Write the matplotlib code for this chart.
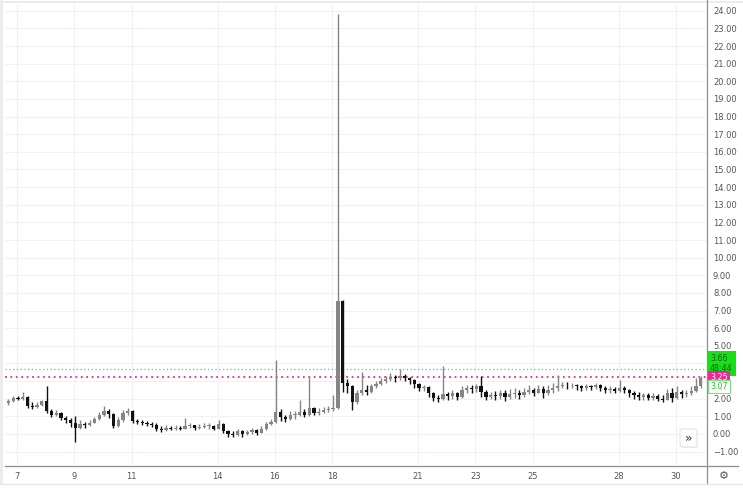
import matplotlib.pyplot as plt
from matplotlib.lines import Line2D
from matplotlib.patches import FancyBboxPatch, Rectangle
import numpy as np

# 4h candles, one row per day (open = previous close)
close = [
    1.85, 2.05, 2.0, 2.1, 1.6, 1.55,
    1.65, 1.85, 1.3, 1.1, 1.2, 0.9,
    0.8, 0.65, 0.35, 0.55, 0.5, 0.65,
    0.85, 1.1, 1.3, 1.15, 0.45, 0.8,
    1.2, 1.3, 0.75, 0.7, 0.6, 0.55,
    0.5, 0.3, 0.2, 0.35, 0.3, 0.35,
    0.3, 0.45, 0.5, 0.35, 0.4, 0.45,
    0.45, 0.3, 0.55, 0.15, 0.0, -0.05,
    0.15, 0.0, 0.1, 0.2, 0.05, 0.3,
    0.55, 0.7, 1.25, 0.95, 0.85, 1.1,
    1.1, 1.25, 1.05, 1.45, 1.2, 1.25,
    1.35, 1.4, 1.47, 7.56, 2.9, 2.7,
    1.8, 2.3, 2.5, 2.4, 2.7, 2.85,
    3.0, 3.1, 3.25, 3.15, 3.3, 3.2,
    3.05, 2.85, 2.6, 2.65, 2.35, 2.05,
    2.0, 2.25, 2.15, 2.35, 2.1, 2.5,
    2.6, 2.55, 2.7, 2.4, 2.1, 2.2,
    2.15, 2.3, 2.1, 2.25, 2.35, 2.2,
    2.4, 2.5, 2.35, 2.55, 2.3, 2.5,
    2.6, 2.7, 2.8, 2.75, 2.8, 2.7,
    2.6, 2.7, 2.65, 2.75, 2.6, 2.5,
    2.55, 2.45, 2.6, 2.5, 2.35, 2.2,
    2.1, 2.2, 2.05, 2.15, 2.0, 1.95,
    2.3, 2.05, 2.4, 2.25, 2.3, 2.45,
    2.7, 3.15,
]
high = [
    2.0, 2.15, 2.15, 2.4, 2.15, 1.8,
    1.8, 1.95, 2.7, 1.4, 1.35, 1.25,
    1.0, 0.9, 1.0, 0.8, 0.7, 0.8,
    0.95, 1.25, 1.6, 1.4, 1.2, 0.95,
    1.35, 1.5, 1.35, 0.85, 0.8, 0.75,
    0.7, 0.6, 0.45, 0.5, 0.45, 0.5,
    0.45, 0.9, 0.65, 0.5, 0.55, 0.6,
    0.6, 0.5, 0.8, 0.6, 0.25, 0.15,
    0.3, 0.25, 0.25, 0.35, 0.3, 0.45,
    0.7, 0.85, 4.2, 1.4, 1.1, 1.3,
    1.3, 1.9, 1.4, 3.3, 1.55, 1.5,
    1.55, 1.6, 2.2, 23.8, 7.6, 3.1,
    2.8, 2.5, 3.5, 2.75, 2.85, 3.0,
    3.15, 3.3, 3.45, 3.35, 3.7, 3.4,
    3.25, 3.1, 2.9, 2.8, 2.7, 2.4,
    2.2, 3.85, 2.4, 2.5, 2.4, 2.7,
    2.8, 2.8, 2.85, 3.3, 2.5, 2.4,
    2.45, 2.5, 2.5, 2.55, 2.6, 2.5,
    2.6, 2.75, 2.6, 2.8, 2.7, 2.75,
    2.9, 3.35, 2.95, 2.95, 2.9, 2.85,
    2.8, 2.85, 2.8, 2.9, 2.85, 2.7,
    2.7, 2.65, 3.05, 2.7, 2.55, 2.45,
    2.4, 2.35, 2.3, 2.35, 2.25, 2.2,
    2.55, 2.6, 2.7, 2.5, 2.5, 2.7,
    3.2, 3.3,
]
low = [
    1.65, 1.8, 1.9, 1.95, 1.5, 1.4,
    1.5, 1.6, 1.2, 0.95, 1.0, 0.8,
    0.6, 0.4, -0.43, 0.3, 0.35, 0.45,
    0.6, 0.8, 1.0, 0.9, 0.35, 0.4,
    0.7, 1.1, 0.65, 0.55, 0.5, 0.45,
    0.4, 0.15, 0.1, 0.15, 0.2, 0.25,
    0.2, 0.3, 0.35, 0.25, 0.3, 0.35,
    0.3, 0.2, 0.3, 0.05, -0.15, -0.2,
    -0.1, -0.15, -0.05, 0.0, -0.05, 0.05,
    0.25, 0.5, 0.65, 0.75, 0.7, 0.8,
    0.85, 1.0, 0.95, 1.0, 1.05, 1.1,
    1.2, 1.25, 1.3, 1.4, 2.4, 2.3,
    1.35, 1.7, 2.2, 2.2, 2.35, 2.6,
    2.8, 2.9, 3.0, 2.95, 3.05, 3.0,
    2.85, 2.6, 2.45, 2.45, 2.1, 1.85,
    1.8, 1.95, 1.95, 2.0, 1.95, 2.05,
    2.3, 2.35, 2.4, 2.1, 1.95, 2.0,
    1.9, 2.0, 1.85, 2.0, 2.05, 2.0,
    2.1, 2.25, 2.15, 2.3, 2.05, 2.2,
    2.3, 2.45, 2.6, 2.55, 2.6, 2.5,
    2.45, 2.5, 2.5, 2.55, 2.45, 2.35,
    2.3, 2.3, 2.4, 2.3, 2.1, 2.0,
    1.9, 1.95, 1.9, 1.95, 1.85, 1.8,
    1.9, 1.8, 2.0, 2.05, 2.1, 2.2,
    2.4, 2.6,
]
first_open = 1.75
start_day = 6.7
candles_per_day = 6

day_ticks = [7, 9, 11, 14, 16, 18, 21, 23, 25, 28, 30]
price_ticks = list(range(-1, 25))
hidden_ticks = [3, 4]  # covered by the price labels

last_price = 3.66
countdown = '48:44'
alert_price = 3.25
prev_price = 3.07

W, H = 743, 493
fig = plt.figure(figsize=(W / 100, H / 100), dpi=100)
fig.patch.set_facecolor('white')

# plot area in pixels
left, right, top, bottom = 5, 706, 5, 465
ax = fig.add_axes([left / W, 1 - bottom / H, (right - left) / W, (bottom - top) / H])

c = np.array(close)
o = np.array([first_open] + close[:-1])
t = start_day + np.arange(len(close)) / candles_per_day
up = c >= o
colors = np.where(up, '#858585', '#111111')

ax.vlines(t, low, high, colors=colors, lw=1.0, zorder=3)
body = np.maximum(np.abs(c - o), 0.05)
ax.bar(t, body, bottom=np.minimum(o, c), width=0.68 / candles_per_day,
       color=colors, lw=0, zorder=4)

# price lines
ax.axhline(last_price, color='#4cd964', ls=(0, (1, 2)), lw=0.9, zorder=2)
ax.axhline(alert_price, color='#f0259a', ls=(0, (1, 2)), lw=1.3, zorder=2)

ax.set_xlim(6.58, 31.05)
ax.set_ylim(-1.76, 24.33)

ax.set_xticks(day_ticks)
ax.set_xticklabels([str(d) for d in day_ticks])
ax.set_yticks(price_ticks)
ax.set_yticklabels(['' if p in hidden_ticks else f'{p:.2f}'.replace('-', '\u2212')
                    for p in price_ticks])
ax.yaxis.tick_right()
ax.tick_params(axis='both', length=0, labelsize=6, labelcolor='#555555')
ax.tick_params(axis='x', pad=5)
ax.tick_params(axis='y', pad=5)
ax.grid(True, color='#eef2f7', lw=0.8)
ax.set_axisbelow(True)
for s in ax.spines.values():
    s.set_visible(False)


def fx(px):
    return px / W


def fy(py):
    return 1 - py / H


# axis separators and outer frame
fig.add_artist(Line2D([fx(706.5), fx(706.5)], [fy(0), fy(484)], color='#8a8e97', lw=0.9))
fig.add_artist(Line2D([fx(5), fx(738)], [fy(465.5), fy(465.5)], color='#8a8e97', lw=0.9))
fig.add_artist(Line2D([fx(0), fx(743)], [fy(484), fy(484)], color='#e4e6eb', lw=1.0))
fig.add_artist(Rectangle((0, fy(484)), fx(2.5), 1, transform=fig.transFigure,
                         color='#ececec', lw=0))
fig.add_artist(Rectangle((0, fy(2.5)), 1, fx(2.5), transform=fig.transFigure,
                         color='#ececec', lw=0))

# price labels on the axis
fig.text(fx(710), fy(363.5), f'{last_price:.2f}\n{countdown}', fontsize=5.8,
         color='#1a5d1a', va='center', ha='left', linespacing=1.2, zorder=10,
         bbox=dict(boxstyle='square,pad=0.4', fc='#16e016', ec='none'))
fig.text(fx(710), fy(377.5), f'{alert_price:.2f}', fontsize=5.8, color='white',
         va='center', ha='left', zorder=10,
         bbox=dict(boxstyle='square,pad=0.3', fc='#f0259a', ec='none'))
fig.text(fx(710), fy(386.5), f'{prev_price:.2f}', fontsize=5.8, color='#2ec02e',
         va='center', ha='left', zorder=10,
         bbox=dict(boxstyle='square,pad=0.3', fc='white', ec='#7ee07e', lw=0.8))

# scroll button and settings gear
shadow = FancyBboxPatch((fx(680.5), fy(448)), fx(17), 18 / H, transform=fig.transFigure,
                        boxstyle='round,pad=0,rounding_size=0.004', fc='#e9ebef',
                        ec='none', zorder=9)
fig.add_artist(shadow)
btn = FancyBboxPatch((fx(680), fy(447)), fx(17), 18 / H, transform=fig.transFigure,
                     boxstyle='round,pad=0,rounding_size=0.004', fc='white',
                     ec='#e3e5ea', lw=0.8, zorder=10)
fig.add_artist(btn)
fig.text(fx(688.5), fy(438.5), '\u00bb', fontsize=9, color='#333333',
         ha='center', va='center', zorder=11)
fig.text(fx(723.5), fy(476), '\u2699', fontsize=8, color='#555555',
         ha='center', va='center')

fig.savefig('out.png', dpi=100)
